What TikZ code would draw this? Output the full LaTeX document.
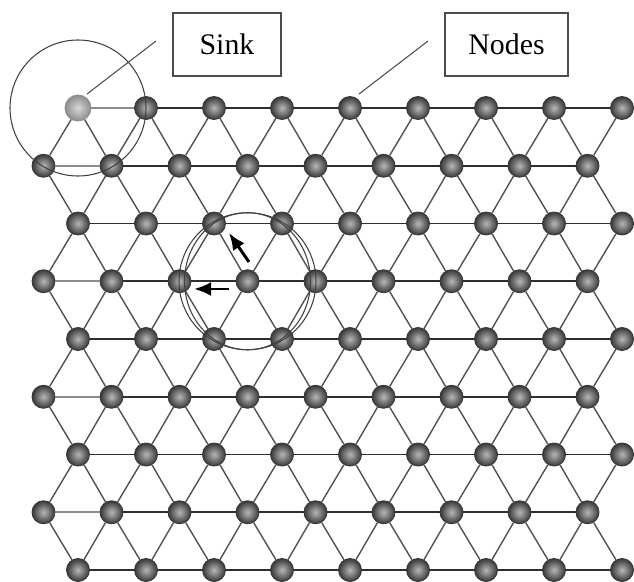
\documentclass[tikz,border=0pt]{standalone}
\usepackage{fontspec}
\setmainfont{Liberation Serif}
\usetikzlibrary{arrows.meta}
\begin{document}
\begin{tikzpicture}[x=0.02cm,y=-0.02cm,
  ball/.style={circle,inner sep=0pt,minimum size=0.46cm,draw=black!78,line width=0.5pt,shading=radial,inner color=black!28,outer color=black!78},
  sinkball/.style={circle,inner sep=0pt,minimum size=0.52cm,draw=black!45,line width=0.5pt,shading=radial,inner color=black!15,outer color=black!45},
  hedge/.style={draw=black!82,line width=0.9pt},
  dedge/.style={draw=black!68,line width=0.8pt},
  ledge/.style={draw=black!45,line width=0.9pt},
  ring/.style={draw=black!75,line width=0.6pt},
  lab/.style={draw=black!70,line width=0.6pt,minimum height=1.26cm,inner sep=0pt,font=\fontsize{17}{20}\selectfont},
  leader/.style={draw=black!70,line width=0.6pt},
  mover/.style={draw=black,line width=1.7pt,-{Latex[length=0.34cm,width=0.28cm]}}
]
\useasboundingbox (0,0) rectangle (634,581);
% lattice nodes
\node[sinkball] (n-0-0) at (78,108) {};
\foreach \r in {0,...,8}{
  \foreach \k in {0,...,8}{
    \pgfmathsetmacro\yy{108+57.75*\r}
    \ifodd\r \def\xo{43.5}\else\def\xo{78}\fi
    \pgfmathsetmacro\xx{\xo+68*\k}
    \ifnum\r\k=0 \else
      \node[ball] (n-\r-\k) at (\xx,\yy) {};
    \fi
  }
}
% horizontal connectors
\foreach \r in {0,...,8}{
  \foreach \k [count=\kk from 2] in {1,...,7}{
    \draw[hedge] (n-\r-\k) -- (n-\r-\kk);
  }
}
\foreach \r in {0,1,3,5,7}{ \draw[ledge] (n-\r-0) -- (n-\r-1); }
\foreach \r in {2,4,6,8}{ \draw[hedge] (n-\r-0) -- (n-\r-1); }
% diagonal connectors
\foreach \r in {1,3,5,7}{
  \pgfmathtruncatemacro\ra{\r-1}
  \pgfmathtruncatemacro\rb{\r+1}
  \foreach \k in {0,...,8}{
    \draw[dedge] (n-\r-\k) -- (n-\ra-\k);
    \draw[dedge] (n-\r-\k) -- (n-\rb-\k);
    \ifnum\k>0
      \pgfmathtruncatemacro\km{\k-1}
      \draw[dedge] (n-\r-\k) -- (n-\ra-\km);
      \draw[dedge] (n-\r-\k) -- (n-\rb-\km);
    \fi
  }
}
% range circles
\draw[ring] (n-0-0.center) circle[radius=68];
\draw[ring] (n-3-3.center) ellipse[x radius=63, y radius=68.5];
\draw[ring] (n-3-3.center) circle[radius=68.5];
% labels
\node[lab,minimum width=2.16cm] (sinklabel) at (227,44.5) {Sink};
\node[lab,minimum width=2.46cm] (nodeslabel) at (506.5,44.5) {Nodes};
\coordinate (sA) at (156,41);
\coordinate (sB) at (87,94);
\coordinate (nA) at (428,41);
\coordinate (nB) at (359,94);
\draw[leader] (sA) -- (sB);
\draw[leader] (nA) -- (nB);
% movement arrows
\coordinate (a1s) at (249,262);
\coordinate (a1e) at (229,233);
\coordinate (a2s) at (229,289);
\coordinate (a2e) at (194,289);
\draw[mover] (a1s) -- (a1e);
\draw[mover] (a2s) -- (a2e);
\end{tikzpicture}
\end{document}
